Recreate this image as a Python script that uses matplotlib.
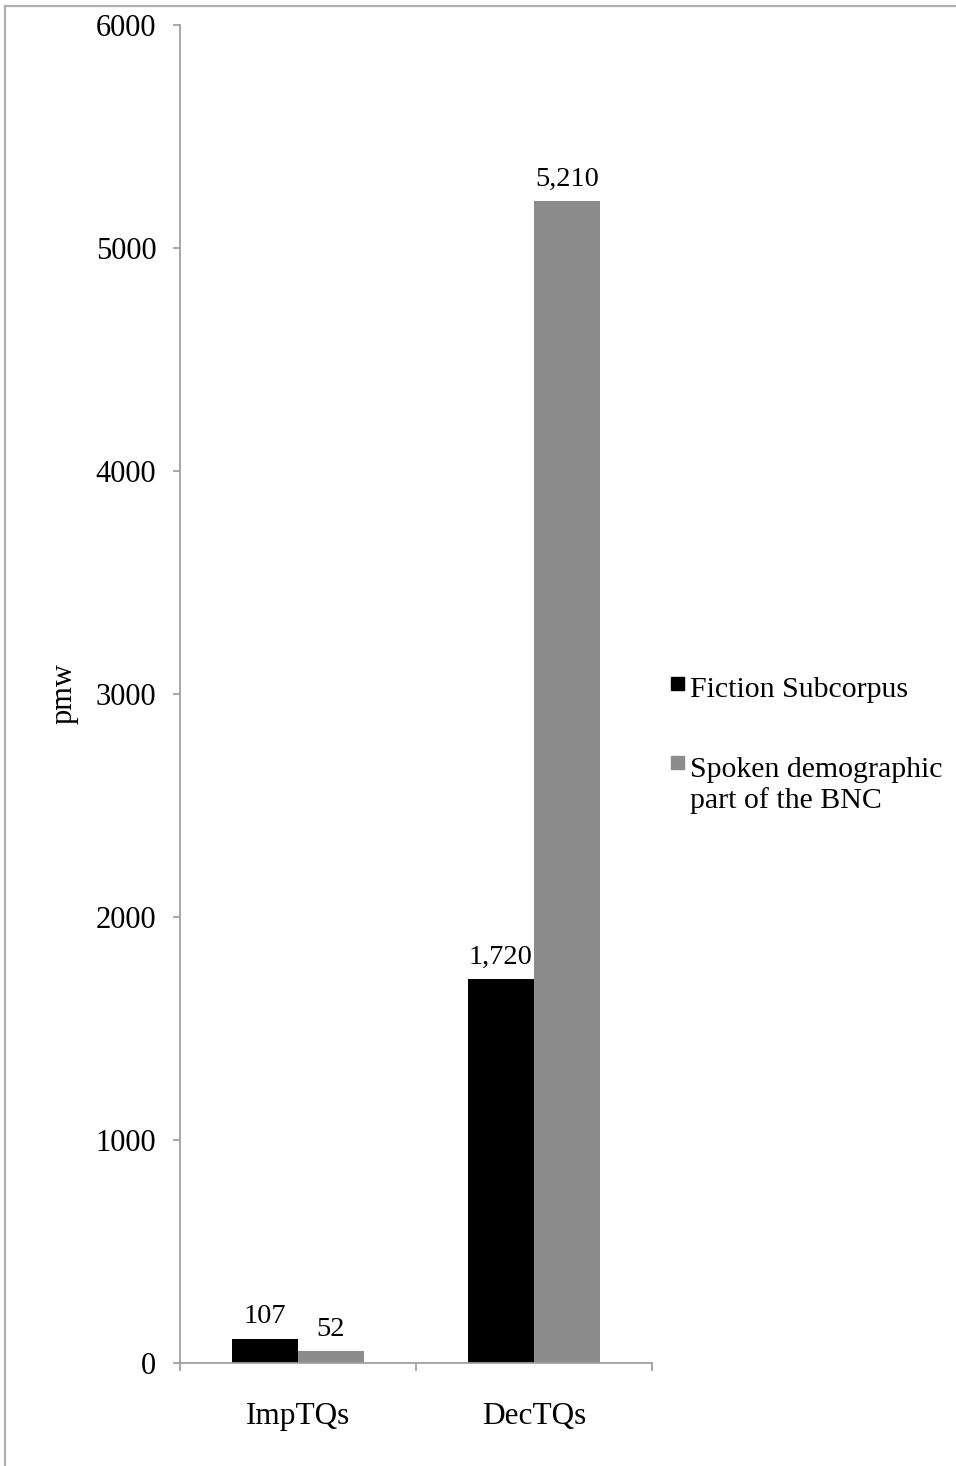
import matplotlib
matplotlib.use('Agg')
import matplotlib.pyplot as plt
from matplotlib.lines import Line2D
from matplotlib.patches import Rectangle
import numpy as np

categories = ['ImpTQs', 'DecTQs']
series_names = ['Fiction Subcorpus', 'Spoken demographic\npart of the BNC']
fiction = [107, 1720]
spoken = [52, 5210]
colors = ['#000000', '#8c8c8c']

plt.rcParams['font.family'] = ['Liberation Serif', 'DejaVu Serif']

fig = plt.figure(figsize=(9.56, 14.66), dpi=100)
ax = fig.add_axes([180/956, 1 - 1363/1466, 472/956, 1338/1466])

x = np.arange(len(categories))
w = 0.28
b1 = ax.bar(x - w/2, fiction, w, color=colors[0], label=series_names[0])
b2 = ax.bar(x + w/2, spoken, w, color=colors[1], label=series_names[1])
for bars in (b1, b2):
    ax.bar_label(bars, labels=['{:,}'.format(int(v)) for v in bars.datavalues],
                 padding=7, fontsize=20.5)

ax.set_xlim(-0.5, 1.5)
ax.set_ylim(0, 6000)
ax.set_yticks(np.arange(0, 6001, 1000))

# category labels sit between the tick marks
ax.set_xticks(x)
ax.set_xticklabels(categories, fontsize=22.5)
ax.tick_params(axis='x', which='major', length=0, pad=28)
ax.set_xticks([-0.5, 0.5, 1.5], minor=True)
ax.tick_params(axis='x', which='minor', length=6, width=1.3, color='#a0a0a0')
ax.tick_params(axis='y', length=5, width=1.3, color='#a0a0a0', pad=12, labelsize=22)

for s in ['top', 'right']:
    ax.spines[s].set_visible(False)
for s in ['left', 'bottom']:
    ax.spines[s].set_color('#a0a0a0')
    ax.spines[s].set_linewidth(1.3)

ax.set_ylabel('pmw', fontsize=22)
ax.yaxis.set_label_coords(-0.216, 0.5)

# legend, Excel style: square next to the first line of each entry
W, H = 956, 1466
for i, (name, c) in enumerate(zip(series_names, colors)):
    yc = 683 + 80 * i
    fig.add_artist(Rectangle((671/W, 1 - (yc + 6.5)/H), 13/W, 13/H,
                             transform=fig.transFigure, color=c))
    fig.text(690/W, 1 - (yc - 6)/H, name, fontsize=21.5, va='top',
             ha='left', linespacing=1.2)

# outer frame (only top and left edges visible)
fig.add_artist(Line2D([5/W, 1], [1 - 5.5/H, 1 - 5.5/H], color='#b0b0b0', lw=1.6))
fig.add_artist(Line2D([5/W, 5/W], [0, 1 - 5.5/H], color='#b0b0b0', lw=1.6))

fig.savefig('out.png', dpi=100)
